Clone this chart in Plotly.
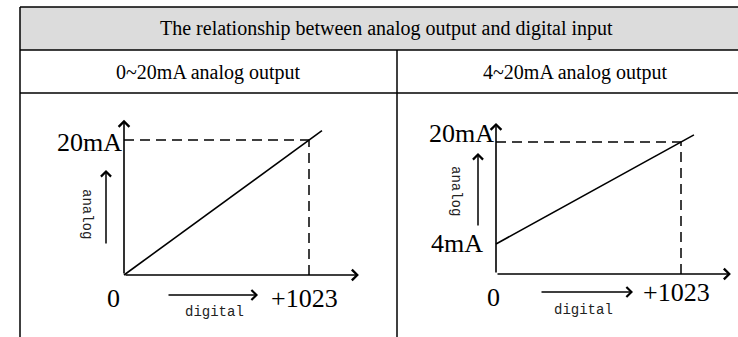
import plotly.graph_objects as go

# values
digital_codes = [0, 1023]
out_0_20 = [0, 20]          # mA, 0~20mA output
out_4_20 = [4, 20]          # mA, 4~20mA output
table_title = "The relationship between analog output and digital input"
panel_titles = ["0~20mA analog output", "4~20mA analog output"]

W, H = 738, 337
SERIF = "Liberation Serif, Times New Roman, serif"
MONO = "Liberation Mono, Courier New, monospace"
INK = "black"


def px(x):
    return x / W


def py(y):
    return 1 - y / H


# panel geometry (pixels) -> axis ranges
Y_DOM = (100, 330)  # top, bottom
panels = [
    dict(xdom=(40, 390), x0=124, xpu=185 / 1023, yref_px=275, yref_val=0, ypu=6.75,
         floor=0, data=out_0_20, top_dy=-2, zero_dx=-11, zero_dy=-23, end_dy=-23,
         analog=(106, 170, 75, 87, 214), digital=(258, 295, 91, 214, 312)),
    dict(xdom=(405, 737), x0=496, xpu=185 / 1023, yref_px=244, yref_val=4, ypu=6.375,
         floor=-0.7, data=out_4_20, top_dy=9, zero_dx=-3, zero_dy=-24, end_dy=-19,
         analog=(478, 153, 74, 456, 191), digital=(633, 292, 93, 583, 310)),
]

fig = go.Figure()
shapes = []
annotations = []
overshoot = 0.07
x_tip, y_tip = 1299, 23

for i, p in enumerate(panels):
    sfx = "" if i == 0 else str(i + 1)
    xa, ya = "x" + sfx, "y" + sfx

    xr = [(p["xdom"][0] - p["x0"]) / p["xpu"], (p["xdom"][1] - p["x0"]) / p["xpu"]]
    yr = [p["yref_val"] + (p["yref_px"] - Y_DOM[1]) / p["ypu"],
          p["yref_val"] + (p["yref_px"] - Y_DOM[0]) / p["ypu"]]
    fig.layout["xaxis" + sfx] = dict(domain=[px(p["xdom"][0]), px(p["xdom"][1])], range=xr,
                                     visible=False, anchor=ya, fixedrange=True)
    fig.layout["yaxis" + sfx] = dict(domain=[py(Y_DOM[1]), py(Y_DOM[0])], range=yr,
                                     visible=False, anchor=xa, fixedrange=True)

    # transfer line, drawn a little past full scale like the original sketch
    xs = list(digital_codes)
    ys = list(p["data"])
    xs.append(xs[-1] + overshoot * (xs[-1] - xs[0]))
    ys.append(ys[-1] + overshoot * (ys[-1] - ys[0]))
    fig.add_trace(go.Scatter(x=xs, y=ys, mode="lines", line=dict(color=INK, width=1.6),
                             xaxis=xa, yaxis=ya, hoverinfo="skip", showlegend=False))

    fl = p["floor"]
    # dashed guides at full scale
    shapes.append(dict(type="line", xref=xa, yref=ya, x0=0, y0=p["data"][-1],
                       x1=digital_codes[-1], y1=p["data"][-1],
                       line=dict(color=INK, width=1.5, dash="10px,6px")))
    shapes.append(dict(type="line", xref=xa, yref=ya, x0=digital_codes[-1], y0=fl,
                       x1=digital_codes[-1], y1=p["data"][-1],
                       line=dict(color=INK, width=1.5, dash="10px,6px")))

    # axes with arrow heads
    arrow = dict(text="", showarrow=True, arrowhead=4, arrowsize=1.3, arrowwidth=1.6,
                 arrowcolor=INK, standoff=0, xref=xa, yref=ya, axref=xa, ayref=ya)
    annotations.append(dict(arrow, x=x_tip, y=fl, ax=0, ay=fl))
    annotations.append(dict(arrow, x=0, y=y_tip, ax=0, ay=fl))

    big = dict(family=SERIF, size=26, color=INK)
    annotations.append(dict(text="20mA", x=0, y=p["data"][-1], xref=xa, yref=ya,
                            xanchor="right", yanchor="middle", showarrow=False,
                            yshift=p["top_dy"], font=big))
    if p["data"][0] != 0:
        annotations.append(dict(text="%dmA" % p["data"][0], x=0, y=p["data"][0], xref=xa,
                                yref=ya, xanchor="right", yanchor="middle", showarrow=False,
                                xshift=-11, yshift=1, font=big))
    annotations.append(dict(text="0", x=0, y=fl, xref=xa, yref=ya, xanchor="center",
                            yanchor="middle", showarrow=False, xshift=p["zero_dx"],
                            yshift=p["zero_dy"], font=big))
    annotations.append(dict(text="+%d" % digital_codes[-1], x=digital_codes[-1], y=fl,
                            xref=xa, yref=ya, xanchor="center", yanchor="middle",
                            showarrow=False, xshift=-4.5, yshift=p["end_dy"], font=big))

    # small direction arrows with axis names
    small = dict(family=MONO, size=14, color="#222")
    ax_, tip_y, tail, lx, ly = p["analog"]
    annotations.append(dict(text="", x=px(ax_), y=py(tip_y), xref="paper", yref="paper",
                            ax=0, ay=tail, showarrow=True, arrowhead=4, arrowsize=1.3,
                            arrowwidth=1.5, arrowcolor=INK, standoff=0))
    annotations.append(dict(text="analog", x=px(lx), y=py(ly), xref="paper", yref="paper",
                            xanchor="center", yanchor="middle",
                            textangle=90, showarrow=False, font=small))
    tip_x, dy, tail, lx, ly = p["digital"]
    annotations.append(dict(text="", x=px(tip_x), y=py(dy), xref="paper", yref="paper",
                            ax=-tail, ay=0, showarrow=True, arrowhead=4, arrowsize=1.3,
                            arrowwidth=1.5, arrowcolor=INK, standoff=0))
    annotations.append(dict(text="digital", x=px(lx), y=py(ly), xref="paper", yref="paper",
                            xanchor="center", yanchor="middle", showarrow=False, font=small))

# table frame
TL, TR, DIV = 20, 753, 397
ROWS = [7, 50, 93]
shapes.append(dict(type="rect", xref="paper", yref="paper", x0=px(TL), x1=px(TR),
                   y0=py(ROWS[0]), y1=py(ROWS[1]), fillcolor="#DCDCDC", line_width=0,
                   layer="below"))
for r in ROWS:
    shapes.append(dict(type="line", xref="paper", yref="paper", x0=px(TL), x1=px(TR),
                       y0=py(r), y1=py(r), line=dict(color=INK, width=1.5)))
shapes.append(dict(type="line", xref="paper", yref="paper", x0=px(TL), x1=px(TL),
                   y0=py(ROWS[0]), y1=py(H + 5), line=dict(color=INK, width=1.5)))
shapes.append(dict(type="line", xref="paper", yref="paper", x0=px(DIV), x1=px(DIV),
                   y0=py(ROWS[1]), y1=py(H + 5), line=dict(color=INK, width=1.5)))

head = dict(family=SERIF, size=20, color=INK)
for txt, cx, cy in [(table_title, (TL + TR) / 2, 28.5),
                    (panel_titles[0], (TL + DIV) / 2, 72),
                    (panel_titles[1], (DIV + TR) / 2, 72)]:
    annotations.append(dict(text=txt, x=px(cx), y=py(cy), xref="paper", yref="paper",
                            xanchor="center", yanchor="middle", showarrow=False, font=head))

fig.update_layout(width=W, height=H, autosize=False, margin=dict(l=0, r=0, t=0, b=0),
                  paper_bgcolor="white", plot_bgcolor="white", showlegend=False,
                  shapes=shapes, annotations=annotations)

fig.write_html("out.html", config={"displayModeBar": False, "staticPlot": True},
               post_script="document.body.style.margin='0';document.body.style.overflow='hidden';")
